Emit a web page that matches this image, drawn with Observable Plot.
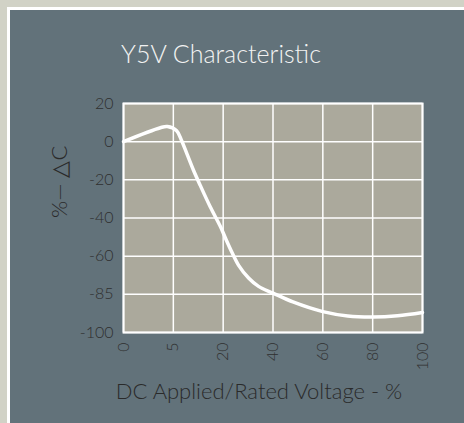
<!DOCTYPE html>
<html>
<head>
<meta charset="utf-8">
<script src="https://cdn.jsdelivr.net/npm/d3@7"></script>
<script src="https://cdn.jsdelivr.net/npm/@observablehq/plot@0.6"></script>
<style>
  html, body { margin: 0; padding: 0; background: #d1d2c6; }
  #wrap { position: relative; width: 464px; height: 423px; overflow: hidden; }
  #panel { position: absolute; left: 7px; top: 7px; width: 470px; height: 430px;
           border: 3px solid #ffffff; background: #62727a; box-sizing: border-box; }
  #chart { position: absolute; left: 0; top: 0; }
  #chart svg { background: transparent; }
</style>
</head>
<body>
<div id="wrap"><div id="panel"></div><div id="chart"></div></div>
<script>
const title = "Y5V Characteristic";
const xLabel = "DC Applied/Rated Voltage - %";
const yLabel = "%— △C";
const xTicks = [0, 5, 20, 40, 60, 80, 100];
const yTicks = [-100, -85, -60, -40, -20, 0, 20];
const voltage = [0, 3.7, 4.4, 6.0, 7.5, 9.1, 11.1, 13.1, 16.1, 19.2, 20.9, 23.6, 26.2, 30.2, 34.2, 40, 48, 60, 70, 80, 90, 100];
const deltaC  = [0, 7.3, 7.9, 5.7, 0.5, -6.4, -15.1, -22.9, -34.1, -44.6, -50.5, -58.2, -66, -74.3, -79.8, -84.2, -88, -91.8, -93.5, -93.9, -93.4, -92.1];

const W = 464, H = 423;
const mL = 123, mR = 42, mT = 103, mB = 91;
const xStep = (W - mL - mR) / (xTicks.length - 1);
const yStep = (H - mT - mB) / (yTicks.length - 1);
const xRange = xTicks.map((_, i) => mL + i * xStep);
const yRange = yTicks.map((_, i) => H - mB - i * yStep);

const data = voltage.map((v, i) => ({v, c: deltaC[i]}));
const font = "Lato, 'DejaVu Sans', sans-serif";

const chart = Plot.plot({
  width: W, height: H,
  marginLeft: mL, marginRight: mR, marginTop: mT, marginBottom: mB,
  style: {fontFamily: font, background: "transparent", fontWeight: 300},
  x: {type: "linear", domain: xTicks, range: xRange},
  y: {type: "linear", domain: yTicks, range: yRange},
  marks: [
    Plot.frame({fill: "#aba99c"}),
    Plot.ruleX(xTicks, {stroke: "#ffffff", strokeWidth: 1.5}),
    Plot.ruleY(yTicks, {stroke: "#ffffff", strokeWidth: 1.5}),
    Plot.frame({stroke: "#ffffff", strokeWidth: 2}),
    Plot.line(data, {x: "v", y: "c", stroke: "#ffffff", strokeWidth: 3.5, curve: "catmull-rom"}),
    Plot.axisX({ticks: xTicks, tickSize: 0, tickPadding: 10, tickRotate: -90, fontSize: 16, fill: "#2f2f2f", label: null, tickFormat: d => String(d), style: "letter-spacing:0.8px"}),
    Plot.axisY({ticks: yTicks, tickSize: 0, tickPadding: 10, fontSize: 16, fill: "#2f2f2f", label: null, tickFormat: d => String(d), style: "letter-spacing:0.8px"}),
    Plot.text([title], {frameAnchor: "top", lineAnchor: "bottom", dy: -41, dx: -52, fontSize: 25, fill: "#f2f2f2", text: d => d, style: "letter-spacing:4.2px"}),
    Plot.text([xLabel], {frameAnchor: "bottom", lineAnchor: "bottom", dy: 66, dx: -14, fontSize: 22, fill: "#2a2a2a", text: d => d, style: "letter-spacing:2.8px"}),
    Plot.text([yLabel], {frameAnchor: "left", rotate: -90, dx: -64, fontSize: 22, fill: "#2a2a2a", text: d => d})
  ]
});
document.getElementById("chart").appendChild(chart);
</script>
</body>
</html>
